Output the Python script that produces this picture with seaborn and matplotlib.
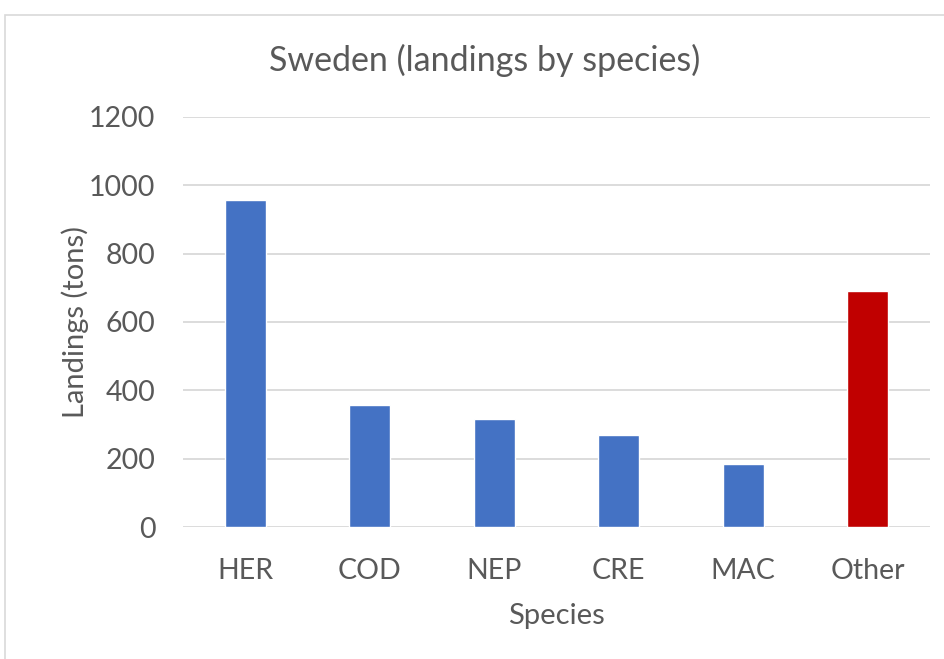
import matplotlib
matplotlib.use("Agg")
import matplotlib.pyplot as plt
import seaborn as sns
import pandas as pd
from matplotlib.patches import Rectangle

# data
species = ["HER", "COD", "NEP", "CRE", "MAC", "Other"]
landings = [958, 356, 315, 270, 184, 690]
bar_colors = ["#4472C4", "#4472C4", "#4472C4", "#4472C4", "#4472C4", "#C00000"]
y_ticks = [0, 200, 400, 600, 800, 1000, 1200]

df = pd.DataFrame({"species": species, "landings": landings})

sns.set_theme(style="white")
plt.rcParams["font.family"] = ["Lato", "DejaVu Sans"]

text_gray = "#595959"
grid_gray = "#D9D9D9"

fig = plt.figure(figsize=(9.45, 6.59), dpi=100)
ax = fig.add_axes([0.1937, 0.2003, 0.7903, 0.6222])

sns.barplot(data=df, x="species", y="landings", hue="species",
            palette=bar_colors, legend=False, width=0.33,
            saturation=1, ax=ax, zorder=3)

ax.set_ylim(0, 1200)
ax.set_xlim(-0.5, 5.5)
ax.set_yticks(y_ticks)
ax.set_yticklabels([str(v) for v in y_ticks])

# gridlines like the spreadsheet chart
ax.yaxis.grid(True, color=grid_gray, linewidth=1.3, zorder=0)
ax.set_axisbelow(True)
for s in ax.spines.values():
    s.set_visible(False)

ax.tick_params(axis="both", length=0, labelsize=20.5, labelcolor=text_gray)
ax.tick_params(axis="y", pad=20)
ax.tick_params(axis="x", pad=22)

ax.set_xlabel("Species", fontsize=21, color=text_gray, labelpad=14)
ax.set_ylabel("Landings (tons)", fontsize=21, color=text_gray, labelpad=0)

fig.text(0.513, 0.909, "Sweden (landings by species)", ha="center", va="center",
         fontsize=24.5, color=text_gray)

# light chart-area border
fig.patches.append(Rectangle((0.005, -0.01), 1.2, 0.987, transform=fig.transFigure,
                             fill=False, edgecolor="#D9D9D9", linewidth=1.2))

fig.savefig("out.png", dpi=100)
